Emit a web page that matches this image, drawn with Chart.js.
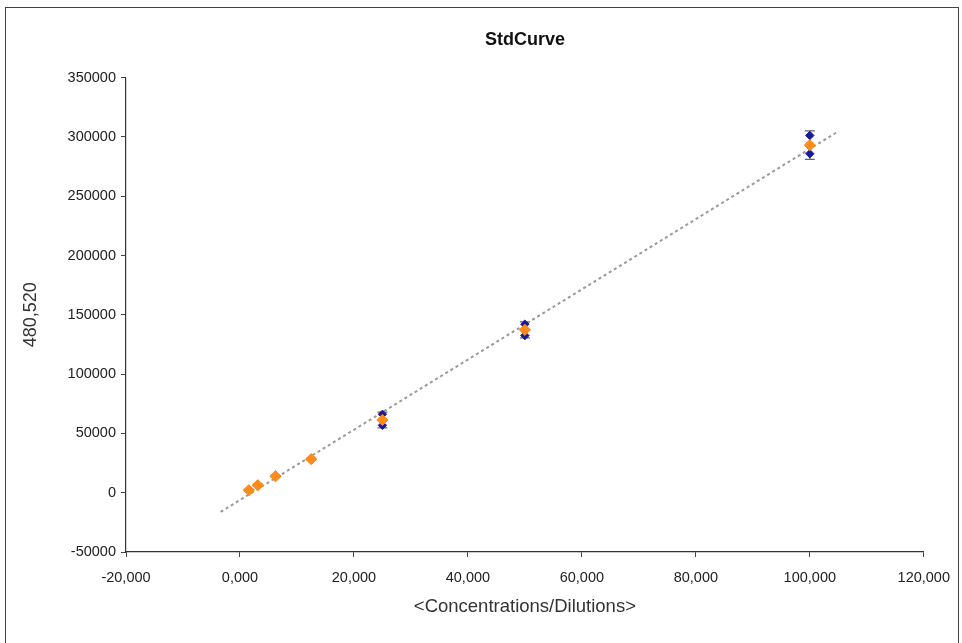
<!DOCTYPE html>
<html>
<head>
<meta charset="utf-8">
<script src="https://cdn.jsdelivr.net/npm/chart.js@4"></script>
<style>
  body { margin: 0; background: #fff; }
  #frame { position: absolute; left: 5px; top: 7px; width: 952px; height: 700px; border: 1px solid #444; }
  #wrap { position: absolute; left: 0; top: 0; width: 962px; height: 643px; }
</style>
</head>
<body>
<div id="frame"></div>
<div id="wrap"><canvas id="chart"></canvas></div>
<script>
// concentrations of the standards
const concentrations = [1562.5, 3125, 6250, 12500, 25000, 50000, 100000];
// mean signal and the two replicates
const meanValues = [2100, 6300, 13900, 28300, 61300, 137300, 293000];
const replicate1 = [2600, 6900, 14300, 28800, 66100, 142100, 301200];
const replicate2 = [1600, 5700, 13500, 27800, 56800, 132500, 285800];
const errorValues = [700, 850, 560, 700, 6600, 6800, 12000];
// dotted fit line end points
const trendX = [-3400, 104600];
const trendY = [-16200, 303500];

const xTickValues = [-20000, 0, 20000, 40000, 60000, 80000, 100000, 120000];
const xTickLabels = ["-20,000", "0,000", "20,000", "40,000", "60,000", "80,000", "100,000", "120,000"];
const yTickValues = [-50000, 0, 50000, 100000, 150000, 200000, 250000, 300000, 350000];

const font = "'Liberation Sans', Arial, sans-serif";

const errorBars = {
    id: "errorBars",
    beforeDatasetsDraw(chart) {
        const ctx = chart.ctx;
        const xs = chart.scales.x;
        const ys = chart.scales.y;
        ctx.save();
        ctx.strokeStyle = "#666";
        ctx.lineWidth = 1.2;
        concentrations.forEach((c, i) => {
            const px = xs.getPixelForValue(c);
            const top = ys.getPixelForValue(meanValues[i] + errorValues[i]);
            const bot = ys.getPixelForValue(meanValues[i] - errorValues[i]);
            ctx.beginPath();
            ctx.moveTo(px, top); ctx.lineTo(px, bot);
            ctx.moveTo(px - 5, top); ctx.lineTo(px + 5, top);
            ctx.moveTo(px - 5, bot); ctx.lineTo(px + 5, bot);
            ctx.stroke();
        });
        ctx.restore();
    }
};

new Chart(document.getElementById("chart"), {
    type: "scatter",
    data: {
        datasets: [
            {
                type: "line",
                order: 3,
                data: trendX.map((x, i) => ({ x: x, y: trendY[i] })),
                borderColor: "#999",
                borderWidth: 2,
                borderDash: [3, 3],
                pointRadius: 0,
                fill: false,
            },
            {
                order: 1,
                data: concentrations.map((c, i) => ({ x: c, y: replicate1[i] })),
                pointStyle: "rectRot",
                pointRadius: 4.2,
                backgroundColor: "#1a1a9a",
                borderColor: "#1a1a9a",
            },
            {
                order: 1,
                data: concentrations.map((c, i) => ({ x: c, y: replicate2[i] })),
                pointStyle: "rectRot",
                pointRadius: 4.2,
                backgroundColor: "#1a1a9a",
                borderColor: "#1a1a9a",
            },
            {
                order: 0,
                data: concentrations.map((c, i) => ({ x: c, y: meanValues[i] })),
                pointStyle: "rectRot",
                pointRadius: 5.6,
                backgroundColor: "#ff8c1a",
                borderColor: "#ff8c1a",
            },
        ],
    },
    options: {
        responsive: true,
        maintainAspectRatio: false,
        animation: false,
        layout: { padding: { left: 0, right: 38, top: 0, bottom: 0 } },
        plugins: {
            legend: { display: false },
            tooltip: { enabled: false },
            title: {
                display: true,
                fullSize: false,
                text: "StdCurve",
                color: "#111",
                font: { family: font, size: 18, weight: "bold" },
                padding: { top: 29, bottom: 27 },
            },
        },
        scales: {
            x: {
                type: "linear",
                min: -20000,
                max: 120000,
                afterBuildTicks: (axis) => { axis.ticks = xTickValues.map((v) => ({ value: v })); },
                afterFit: (axis) => { axis.height = 91; },
                grid: { display: true, drawOnChartArea: false, color: "#444", tickLength: 5 },
                border: { color: "#333", width: 1.2 },
                ticks: {
                    color: "#222",
                    font: { family: font, size: 14.5 },
                    padding: 12,
                    maxRotation: 0,
                    callback: (v) => xTickLabels[xTickValues.indexOf(v)],
                },
                title: {
                    display: true,
                    text: "<Concentrations/Dilutions>",
                    color: "#333",
                    font: { family: font, size: 18.5 },
                    padding: { top: 0, bottom: 25 },
                },
            },
            y: {
                type: "linear",
                min: -50000,
                max: 350000,
                afterBuildTicks: (axis) => { axis.ticks = yTickValues.map((v) => ({ value: v })); },
                afterFit: (axis) => { axis.width = 126; },
                grid: { display: true, drawOnChartArea: false, color: "#444", tickLength: 5 },
                border: { color: "#333", width: 1.2 },
                ticks: {
                    color: "#222",
                    font: { family: font, size: 14.5 },
                    padding: 5,
                    callback: (v) => String(v),
                },
                title: {
                    display: true,
                    text: "480,520",
                    color: "#333",
                    font: { family: font, size: 18 },
                    padding: { top: 20, bottom: 0 },
                },
            },
        },
    },
    plugins: [errorBars],
});
</script>
</body>
</html>
